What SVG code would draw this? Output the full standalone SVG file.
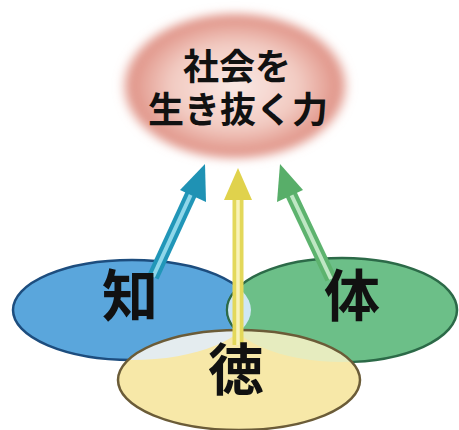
<svg xmlns="http://www.w3.org/2000/svg" width="459" height="430" viewBox="0 0 459 430">
<style>
.t{font-family:"Noto Sans CJK JP","Noto Sans CJK SC",sans-serif;fill:#111;text-anchor:middle}
.top{font-size:36px;font-weight:700}
.big{font-size:56px;font-weight:700}
</style>
<defs>
<radialGradient id="pink" cx="50%" cy="50%" r="50%">
<stop offset="0" stop-color="#fae9e5"/>
<stop offset="0.55" stop-color="#f2cbc2"/>
<stop offset="0.9" stop-color="#e09488"/>
<stop offset="1" stop-color="#e8a89c" stop-opacity="0"/>
</radialGradient>
<filter id="blur" x="-20%" y="-20%" width="140%" height="140%"><feGaussianBlur stdDeviation="4"/></filter>
<clipPath id="cBlue"><ellipse cx="132" cy="310" rx="119" ry="50"/></clipPath>
<clipPath id="cGreen"><ellipse cx="342" cy="310" rx="115" ry="52"/></clipPath>
</defs>
<rect width="459" height="430" fill="#ffffff"/>
<g id="top-node">
<ellipse cx="235" cy="86" rx="116" ry="76" fill="url(#pink)" filter="url(#blur)"/>
<text class="t top"><tspan x="237" y="80">社会を</tspan><tspan x="238" y="123">生き抜く力</tspan></text>
</g>
<g id="chi">
<ellipse cx="132" cy="310" rx="119" ry="50" fill="#5aa6dc" stroke="#1d4d7e" stroke-width="2.5"/>
</g>
<g id="tai">
<ellipse cx="342" cy="310" rx="115" ry="52" fill="#6cbf88" stroke="#2c6a48" stroke-width="2.5"/>
<g clip-path="url(#cBlue)"><ellipse cx="342" cy="310" rx="115" ry="52" fill="#cfe7f3" stroke="#2c6a48" stroke-width="2"/></g>
</g>
<g id="toku">
<ellipse cx="239" cy="380" rx="121" ry="50" fill="#f7e8a8"/>
<g clip-path="url(#cBlue)"><ellipse cx="239" cy="380" rx="121" ry="50" fill="#e4ecef"/></g>
<g clip-path="url(#cGreen)"><ellipse cx="239" cy="380" rx="121" ry="50" fill="#e6ecbf"/></g>
<ellipse cx="239" cy="380" rx="121" ry="50" fill="none" stroke="#6b5c38" stroke-width="2.5"/>
</g>
<g id="connectors">
<g id="arrow-chi">
<line x1="153" y1="277" x2="192" y2="192" stroke="#2196b8" stroke-width="12"/>
<line x1="153" y1="277" x2="192" y2="192" stroke="#8fd7ea" stroke-width="4"/>
<polygon points="205,164 180,190 206,202" fill="#1f92b4"/>
</g>
<g id="arrow-toku">
<line x1="238" y1="345" x2="238" y2="198" stroke="#e3d85a" stroke-width="11"/>
<line x1="238" y1="345" x2="238" y2="198" stroke="#f8f3b8" stroke-width="3.5"/>
<polygon points="238,168 224,200 252,200" fill="#e0d24c"/>
</g>
<g id="arrow-tai">
<line x1="331" y1="279" x2="290" y2="192" stroke="#5db36e" stroke-width="12"/>
<line x1="331" y1="279" x2="290" y2="192" stroke="#bfe7c4" stroke-width="4"/>
<polygon points="280,164 277,202 303,190" fill="#58ae69"/>
</g>
</g>
<text class="t big" x="130" y="316">知</text>
<text class="t big" x="352" y="316">体</text>
<text class="t big" x="236" y="390">徳</text>
</svg>
